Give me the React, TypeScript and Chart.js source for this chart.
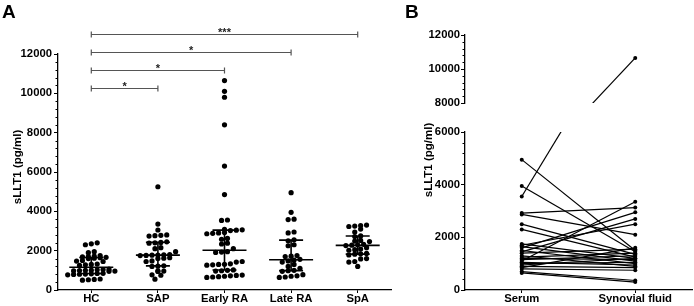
import React, { useEffect, useRef } from "react";
import { Chart, registerables } from "chart.js";
Chart.register(...registerables);

// ---------- DATA ----------
const groupLabels = ["HC", "SAP", "Early RA", "Late RA", "SpA"];
const hcValues = [2400, 2350, 2300, 1950, 1900, 1750, 1720, 1700, 1680, 1660, 1640, 1620, 1600, 1500, 1470, 1450, 1320, 1300, 1280, 1250, 1060, 1040, 1030, 1010, 1000, 990, 980, 960, 950, 850, 840, 820, 810, 800, 790, 770, 560, 540, 520, 500];
const sapValues = [5250, 3350, 3050, 2800, 2780, 2760, 2740, 2450, 2420, 2400, 2380, 2150, 2100, 1950, 1800, 1790, 1780, 1770, 1760, 1750, 1640, 1620, 1600, 1480, 1450, 1230, 1210, 1200, 980, 960, 940, 770, 750, 550];
const earlyRaValues = [10650, 10100, 9800, 8400, 6300, 4850, 3560, 3540, 3080, 3060, 3040, 3020, 2920, 2900, 2880, 2860, 2620, 2580, 2380, 2340, 2100, 1950, 1930, 1910, 1450, 1420, 1330, 1310, 1300, 1280, 1260, 1020, 1000, 980, 960, 760, 740, 720, 700, 680, 660, 640];
const lateRaValues = [4950, 3950, 3600, 3580, 2950, 2900, 2550, 2500, 2300, 2250, 1750, 1720, 1700, 1560, 1520, 1480, 1420, 1300, 1200, 1100, 1000, 980, 950, 780, 720, 700, 660, 640];
const spaValues = [3300, 3280, 3250, 3230, 3100, 2950, 2750, 2720, 2520, 2490, 2460, 2320, 2300, 2280, 2260, 2150, 2080, 2050, 2020, 1860, 1840, 1820, 1780, 1600, 1580, 1450, 1420, 1200];
const groupValues = [hcValues, sapValues, earlyRaValues, lateRaValues, spaValues];

const comparisonFrom = [0, 0, 0, 0];
const comparisonTo = [1, 2, 3, 4];
const comparisonLabels = ["*", "*", "*", "***"];
const comparisonLevels = [10270, 11185, 12100, 13015];

const yTicksA = [0, 2000, 4000, 6000, 8000, 10000, 12000];

const pairedLabels = ["Serum", "Synovial fluid"];
const serumValues = [4950, 3950, 3550, 2920, 2870, 2500, 2300, 1750, 1700, 1650, 1600, 1500, 1450, 1400, 1300, 1250, 1200, 1150, 1100, 1050, 1000, 950, 900, 850, 800, 700, 650];
const synovialValues = [1500, 1450, 10650, 3130, 2100, 1350, 1250, 1200, 2500, 1100, 2950, 1000, 2700, 1550, 900, 1400, 1150, 1300, 3350, 950, 1050, 1200, 850, 1600, 750, 360, 300];
const yTicksBLow = [0, 2000, 4000, 6000];
const yTicksBHigh = [8000, 10000, 12000];
const minorStep = 400;

const yTitle = "sLLT1 (pg/ml)";

// ---------- HELPERS ----------
const FONT = "'Liberation Sans', Arial, Helvetica, sans-serif";
const tickFont = { family: FONT, size: 11.3, weight: "bold" as const };

function percentile(vals: number[], p: number) {
  const s = [...vals].sort((a, b) => a - b);
  const n = s.length;
  let r = p * (n + 1);
  if (r < 1) r = 1;
  if (r > n) r = n;
  const lo = Math.floor(r);
  const hi = Math.ceil(r);
  return s[lo - 1] + (r - lo) * (s[hi - 1] - s[lo - 1]);
}

function swarmOffsets(values: number[], yPix: (v: number) => number, rowGap: number, spacing: number) {
  const idx = values.map((_, i) => i).sort((a, b) => values[a] - values[b]);
  const offsets = new Array(values.length).fill(0);
  let row: number[] = [];
  let rowStart = 0;
  const flush = () => {
    row.forEach((k, j) => (offsets[k] = (j - (row.length - 1) / 2) * spacing));
    row = [];
  };
  idx.forEach((k) => {
    const p = yPix(values[k]);
    if (row.length && Math.abs(p - rowStart) > rowGap) flush();
    if (!row.length) rowStart = p;
    row.push(k);
  });
  flush();
  return offsets;
}

function drawMinorTicks(chart: any, lo: number, hi: number) {
  const ctx = chart.ctx;
  const y = chart.scales.y;
  const x0 = chart.chartArea.left;
  ctx.save();
  ctx.strokeStyle = "#000";
  ctx.lineWidth = 1;
  for (let v = lo; v <= hi; v += minorStep) {
    if (v % 2000 === 0) continue;
    const py = Math.round(y.getPixelForValue(v)) + 0.5;
    ctx.beginPath();
    ctx.moveTo(x0 - 2.5, py);
    ctx.lineTo(x0, py);
    ctx.stroke();
  }
  ctx.restore();
}

function drawRotatedTitle(ctx: CanvasRenderingContext2D, text: string, cx: number, cy: number) {
  ctx.save();
  ctx.translate(cx, cy);
  ctx.rotate(-Math.PI / 2);
  ctx.font = `bold 11.5px ${FONT}`;
  ctx.fillStyle = "#000";
  ctx.textAlign = "center";
  ctx.textBaseline = "middle";
  ctx.fillText(text, 0, 0);
  ctx.restore();
}

function drawLetter(ctx: CanvasRenderingContext2D, text: string, x: number, y: number) {
  ctx.save();
  ctx.font = `bold 19px ${FONT}`;
  ctx.fillStyle = "#000";
  ctx.textAlign = "left";
  ctx.textBaseline = "alphabetic";
  ctx.fillText(text, x, y);
  ctx.restore();
}

const W = 694;
const H = 306;

function yAxis(min: number, max: number, ticks: number[], width: number, pad: number) {
  return {
    type: "linear" as const,
    min,
    max,
    afterBuildTicks: (s: any) => {
      s.ticks = ticks.map((v) => ({ value: v }));
    },
    afterFit: (s: any) => {
      s.width = width;
    },
    ticks: { font: tickFont, color: "#000", padding: pad, callback: (v: any) => String(v) },
    grid: { display: true, drawOnChartArea: false, drawTicks: true, tickLength: 4, color: "#000", lineWidth: 1 },
    border: { display: true, color: "#000", width: 1.3 },
  };
}

export default function App() {
  const refA = useRef<HTMLCanvasElement>(null);
  const refBHigh = useRef<HTMLCanvasElement>(null);
  const refBLow = useRef<HTMLCanvasElement>(null);

  useEffect(() => {
    // ---------- PANEL A ----------
    const statsPlugin = {
      id: "statsA",
      afterDatasetsDraw(chart: any) {
        const ctx = chart.ctx;
        const xs = chart.scales.x;
        const ys = chart.scales.y;
        ctx.save();
        ctx.strokeStyle = "#000";
        ctx.lineWidth = 1.6;
        groupValues.forEach((vals, g) => {
          const cx = xs.getPixelForValue(g);
          const med = ys.getPixelForValue(percentile(vals, 0.5));
          const q1 = ys.getPixelForValue(percentile(vals, 0.25));
          const q3 = ys.getPixelForValue(percentile(vals, 0.75));
          ctx.beginPath();
          ctx.moveTo(cx - 22, med);
          ctx.lineTo(cx + 22, med);
          ctx.moveTo(cx - 12, q1);
          ctx.lineTo(cx + 12, q1);
          ctx.moveTo(cx - 12, q3);
          ctx.lineTo(cx + 12, q3);
          ctx.moveTo(cx, q1);
          ctx.lineTo(cx, q3);
          ctx.stroke();
        });
        ctx.restore();
      },
      afterDraw(chart: any) {
        const ctx = chart.ctx;
        const xs = chart.scales.x;
        const ys = chart.scales.y;
        drawMinorTicks(chart, 0, 12000);
        ctx.save();
        comparisonLevels.forEach((lvl, i) => {
          const x1 = xs.getPixelForValue(comparisonFrom[i]);
          const x2 = xs.getPixelForValue(comparisonTo[i]);
          const py = Math.round(ys.getPixelForValue(lvl)) + 0.5;
          ctx.strokeStyle = "#555";
          ctx.lineWidth = 1.2;
          ctx.beginPath();
          ctx.moveTo(x1, py);
          ctx.lineTo(x2, py);
          ctx.moveTo(x1, py - 3);
          ctx.lineTo(x1, py + 3);
          ctx.moveTo(x2, py - 3);
          ctx.lineTo(x2, py + 3);
          ctx.stroke();
          ctx.font = `bold 11px ${FONT}`;
          ctx.fillStyle = "#222";
          ctx.textAlign = "center";
          ctx.textBaseline = "alphabetic";
          ctx.fillText(comparisonLabels[i], (x1 + x2) / 2, py + 1);
        });
        ctx.restore();
        drawRotatedTitle(ctx, yTitle, 17.5, 167);
        drawLetter(ctx, "A", 2, 18);
      },
    };

    const chartA = new Chart(refA.current!, {
      type: "scatter",
      data: {
        datasets: [
          {
            data: [] as any[],
            pointRadius: 2.6,
            pointBackgroundColor: "#000",
            pointBorderWidth: 0,
            pointHoverRadius: 2.6,
          },
        ],
      },
      options: {
        animation: false,
        responsive: false,
        events: [],
        layout: { padding: { left: 0, right: W - 391, top: 54, bottom: 0 } },
        plugins: { legend: { display: false }, tooltip: { enabled: false } },
        scales: {
          x: {
            type: "linear",
            min: -0.5,
            max: 4.5,
            afterBuildTicks: (s: any) => {
              s.ticks = groupLabels.map((_, i) => ({ value: i }));
            },
            afterFit: (s: any) => {
              s.height = 16;
            },
            ticks: {
              font: tickFont,
              color: "#000",
              padding: -1,
              autoSkip: false,
              maxRotation: 0,
              callback: (v: any) => groupLabels[Math.round(Number(v))],
            },
            grid: { display: true, drawOnChartArea: false, drawTicks: true, tickLength: 3, color: "#000" },
            border: { display: true, color: "#000", width: 1.3 },
          },
          y: yAxis(0, 12000, yTicksA, 58, 2),
        },
      },
      plugins: [statsPlugin],
    });
    {
      const xs: any = chartA.scales.x;
      const ys: any = chartA.scales.y;
      const unit = xs.getPixelForValue(1) - xs.getPixelForValue(0);
      const pts: { x: number; y: number }[] = [];
      groupValues.forEach((vals, g) => {
        const off = swarmOffsets(vals, (v) => ys.getPixelForValue(v), 4, 5.9);
        vals.forEach((v, i) => pts.push({ x: g + off[i] / unit, y: v }));
      });
      chartA.data.datasets[0].data = pts as any;
      chartA.update();
    }

    // ---------- PANEL B ----------
    const makeDatasets = () =>
      serumValues.map((s, i) => ({
        data: [s, synovialValues[i]],
        borderColor: "#000",
        borderWidth: 1.2,
        pointRadius: 2,
        pointBackgroundColor: "#000",
        pointBorderWidth: 0,
        pointHoverRadius: 2,
        fill: false,
        tension: 0,
      }));

    const bLowPlugin = {
      id: "bLow",
      afterDraw(chart: any) {
        drawMinorTicks(chart, 0, 6000);
        drawRotatedTitle(chart.ctx, yTitle, 429, 160);
        drawLetter(chart.ctx, "B", 405, 18);
      },
    };
    const bHighPlugin = {
      id: "bHigh",
      afterDraw(chart: any) {
        drawMinorTicks(chart, 8000, 12000);
      },
    };

    const chartBLow = new Chart(refBLow.current!, {
      type: "line",
      data: { labels: pairedLabels, datasets: makeDatasets() },
      options: {
        animation: false,
        responsive: false,
        events: [],
        layout: { padding: { left: 405, right: 1, top: 132, bottom: 0 } },
        plugins: { legend: { display: false }, tooltip: { enabled: false } },
        scales: {
          x: {
            type: "category",
            offset: true,
            afterFit: (s: any) => {
              s.height = 16;
            },
            ticks: { font: tickFont, color: "#000", padding: -1, autoSkip: false, maxRotation: 0 },
            grid: { display: true, drawOnChartArea: false, drawTicks: true, tickLength: 3, color: "#000", offset: false },
            border: { display: true, color: "#000", width: 1.3 },
          },
          y: yAxis(0, 6000, yTicksBLow, 60, 1),
        },
      },
      plugins: [bLowPlugin],
    });

    const chartBHigh = new Chart(refBHigh.current!, {
      type: "line",
      data: { labels: pairedLabels, datasets: makeDatasets() },
      options: {
        animation: false,
        responsive: false,
        events: [],
        layout: { padding: { left: 405, right: 1, top: 35, bottom: H - 103 } },
        plugins: { legend: { display: false }, tooltip: { enabled: false } },
        scales: {
          x: { type: "category", offset: true, display: false },
          y: yAxis(8000, 12000, yTicksBHigh, 60, 1),
        },
      },
      plugins: [bHighPlugin],
    });

    return () => {
      chartA.destroy();
      chartBLow.destroy();
      chartBHigh.destroy();
    };
  }, []);

  const cs: React.CSSProperties = { position: "absolute", left: 0, top: 0, width: W, height: H };
  return (
    <div style={{ position: "absolute", left: 0, top: 0, width: W, height: H, background: "#fff" }}>
      <canvas ref={refA} width={W} height={H} style={cs} />
      <canvas ref={refBHigh} width={W} height={H} style={cs} />
      <canvas ref={refBLow} width={W} height={H} style={cs} />
    </div>
  );
}
